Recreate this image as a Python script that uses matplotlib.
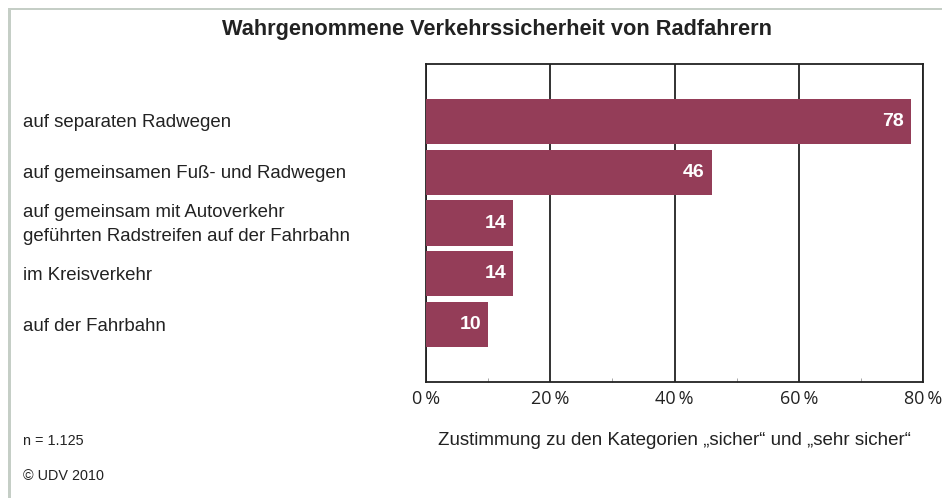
import numpy as np
import matplotlib.pyplot as plt
from matplotlib.patches import Rectangle
from matplotlib.transforms import blended_transform_factory, ScaledTranslation

# values
categories = ["auf separaten Radwegen",
              "auf gemeinsamen Fuß- und Radwegen",
              "auf gemeinsam mit Autoverkehr\ngeführten Radstreifen auf der Fahrbahn",
              "im Kreisverkehr",
              "auf der Fahrbahn"]
values = [78, 46, 14, 14, 10]
xticks = [0, 20, 40, 60, 80]
xtick_labels = ["0\u2009%", "20\u2009%", "40\u2009%", "60\u2009%", "80\u2009%"]

W, H = 942, 498
bar_color = "#943d58"
text_color = "#222222"

plt.rcParams['font.family'] = ['Liberation Sans', 'DejaVu Sans']
fig = plt.figure(figsize=(W / 100, H / 100), dpi=100)

# frame line on top and left
fig.patches.append(Rectangle((8 / W, 0), 2.5 / W, 1 - 8 / H, transform=fig.transFigure,
                             color="#c5cec6", lw=0))
fig.patches.append(Rectangle((8 / W, 1 - 10.5 / H), 1, 2.5 / H, transform=fig.transFigure,
                             color="#c5cec6", lw=0))

ax = fig.add_axes([426 / W, 1 - 382 / H, (923 - 426) / W, (382 - 64) / H])
y = np.arange(len(values))
ax.barh(y, values, height=0.89, color=bar_color, zorder=3)
ax.set_xlim(0, 80)
ax.set_ylim(len(values) - 1 + 1.13, -1.13)

ax.set_xticks(xticks)
ax.set_xticklabels(xtick_labels, fontsize=13, color=text_color,
                   family=['Open Sans', 'DejaVu Sans'])
ax.set_xticks([10, 30, 50, 70], minor=True)
ax.tick_params(axis='x', which='major', length=0, pad=6)
ax.tick_params(axis='x', which='minor', length=3, direction='in', color='#999999')
ax.set_yticks([])
ax.grid(axis='x', color='#222222', lw=1.3, zorder=1)
for s in ax.spines.values():
    s.set_color('#222222')
    s.set_linewidth(1.3)

for i, v in enumerate(values):
    ax.annotate(str(v), (v, i), xytext=(-5, 0), textcoords='offset points',
                ha='right', va='center', color='white', fontsize=14,
                fontweight='bold', zorder=4)

# category labels on the left, aligned with the bars
tr = blended_transform_factory(fig.transFigure, ax.transData) + \
    ScaledTranslation(0, -1.5 / 100, fig.dpi_scale_trans)
for i, c in enumerate(categories):
    fig.text(23 / W, i, c, transform=tr, fontsize=13.4, color=text_color,
             va='center', ha='left', linespacing=1.5)

fig.text(497 / W, 1 - 30 / H, "Wahrgenommene Verkehrssicherheit von Radfahrern",
         ha='center', va='center', fontsize=15.7, fontweight='bold', color=text_color)
fig.text(674 / W, 1 - 440 / H, "Zustimmung zu den Kategorien „sicher“ und „sehr sicher“",
         ha='center', va='center', fontsize=13.5, color=text_color)
fig.text(23 / W, 1 - 441 / H, "n = 1.125", ha='left', va='center', fontsize=10.4,
         color=text_color)
fig.text(23 / W, 1 - 476 / H, "© UDV 2010", ha='left', va='center', fontsize=10.4,
         color=text_color)

fig.savefig("out.png", dpi=100)
